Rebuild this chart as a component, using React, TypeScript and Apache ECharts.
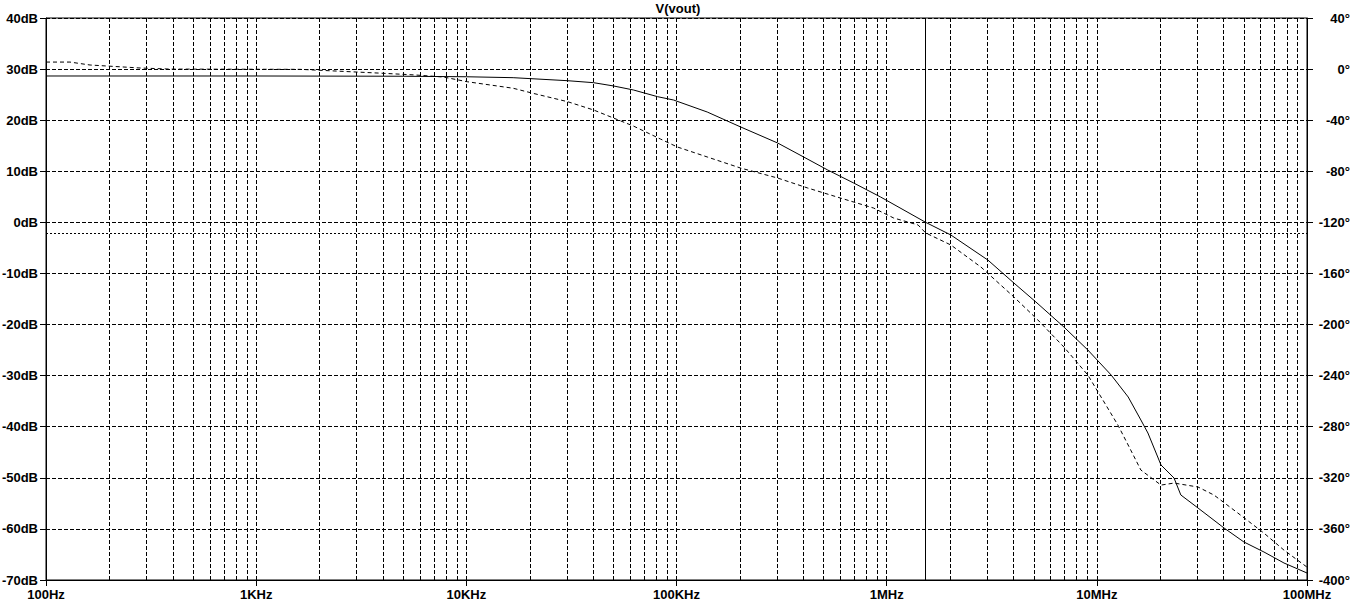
import React, { useEffect, useRef } from "react";
import * as echarts from "echarts";

// ---- data ----
const freqTickLabels = ["100Hz", "1KHz", "10KHz", "100KHz", "1MHz", "10MHz", "100MHz"];
const decades = [100, 1000, 10000, 100000, 1000000, 10000000];
const minorMultipliers = [2, 3, 4, 5, 6, 7, 8, 9];

const magFreq = [
  100, 1000, 5000, 10000, 16700, 30300, 40300, 50100, 62400, 81300, 96800, 140000,
  202000, 303000, 403000, 524000, 697000, 936000, 1534000, 2020000, 3030000, 4030000,
  5130000, 6970000, 9060000, 11700000, 14100000, 16200000, 17500000, 20200000, 23300000,
  25100000, 30300000, 40300000, 50100000, 62400000, 77700000, 100000000,
];
const magDb = [
  28.65, 28.65, 28.6, 28.5, 28.32, 27.73, 27.34, 26.7, 25.91, 24.6, 23.95, 21.6,
  18.67, 15.53, 12.79, 10.25, 7.7, 4.96, 0.0, -2.47, -7.37, -11.87,
  -15.59, -20.48, -24.98, -29.88, -34.18, -38.68, -41.23, -47.49, -50.04,
  -53.36, -55.91, -59.82, -62.56, -64.52, -66.67, -68.63,
];

const phaseFreq = [
  100, 130, 162, 281, 390, 1620, 4030, 5710, 7770, 10100, 16700, 20800, 30300, 40300,
  50100, 62400, 84000, 101000, 140000, 202000, 303000, 421000, 604000, 867000, 1080000,
  1410000, 1534000, 2020000, 2810000, 4030000, 5240000, 6970000, 9060000, 12600000,
  14500000, 16200000, 20200000, 23300000, 30300000, 36100000, 46900000, 62400000,
  77700000, 100000000,
];
const phaseDeg = [
  5.5, 5.5, 3.2, 0.85, 0, -0.2, -3.3, -4.6, -6.2, -9.9, -15.0, -19.0, -25.5, -32.0,
  -38.3, -44.6, -54.8, -61, -68.8, -77.5, -85.3, -93.1, -101, -108.8, -116.6,
  -122, -128.3, -137.7, -155, -178.4, -196.4, -217.6, -239.5, -278.7,
  -298.3, -313.9, -325.7, -324.1, -327.2, -333.5, -347.6, -363.3,
  -376.6, -389.9,
];

const cursorFreq = 1530000;
const cursorPhase = -128.3;

const FONT = "Liberation Sans";

export default function App() {
  const ref = useRef<HTMLDivElement>(null);

  useEffect(() => {
    if (!ref.current) return;
    const chart = echarts.init(ref.current, null, { renderer: "svg" });

    const minorFreqs: number[][] = [];
    decades.forEach((d) => minorMultipliers.forEach((m) => minorFreqs.push([d * m, 0])));

    const labelStyle = {
      color: "#000",
      fontFamily: FONT,
      fontWeight: "bold" as const,
      fontSize: 13,
    };

    chart.setOption({
      animation: false,
      backgroundColor: "#fff",
      title: {
        text: "V(vout)",
        left: "center",
        top: 2,
        padding: 0,
        textStyle: { ...labelStyle },
      },
      grid: {
        left: 46,
        top: 18,
        width: 1261,
        height: 562,
        show: true,
        borderColor: "#000",
        borderWidth: 1,
        backgroundColor: "transparent",
        containLabel: false,
        outerBoundsMode: "none",
      },
      xAxis: {
        type: "log",
        logBase: 10,
        min: 100,
        max: 100000000,
        splitNumber: 6,
        axisLine: { show: true, onZero: false, lineStyle: { color: "#000", width: 1 } },
        axisTick: { show: true, length: 6, inside: false, lineStyle: { color: "#000" } },
        axisLabel: {
          ...labelStyle,
          margin: 8,
          interval: 0,
          showMinLabel: true,
          showMaxLabel: true,
          formatter: (v: number) => {
            const i = Math.round(Math.log10(v)) - 2;
            return freqTickLabels[i] ?? "";
          },
        },
        splitLine: { show: true, lineStyle: { color: "#000", type: [4, 2], width: 1 } },
      },
      yAxis: [
        {
          type: "value",
          min: -70,
          max: 40,
          interval: 10,
          position: "left",
          axisLine: { show: true, onZero: false, lineStyle: { color: "#000", width: 1 } },
          axisTick: { show: true, length: 6, inside: false, lineStyle: { color: "#000" } },
          axisLabel: { ...labelStyle, margin: 8, formatter: (v: number) => `${v}dB` },
          splitLine: { show: true, lineStyle: { color: "#000", type: [4, 2], width: 1 } },
        },
        {
          type: "value",
          min: -400,
          max: 40,
          interval: 40,
          position: "right",
          axisLine: { show: true, onZero: false, lineStyle: { color: "#000", width: 1 } },
          axisTick: { show: true, length: 6, inside: false, lineStyle: { color: "#000" } },
          axisLabel: { ...labelStyle, margin: 43, align: "right", formatter: (v: number) => `${v}°` },
          splitLine: { show: false },
        },
      ],
      series: [
        {
          type: "custom",
          name: "minorGrid",
          xAxisIndex: 0,
          yAxisIndex: 0,
          silent: true,
          z: 1,
          data: minorFreqs,
          encode: { x: 0, y: 1 },
          renderItem: (params: any, api: any) => {
            const cs = params.coordSys;
            const pt = api.coord([api.value(0), api.value(1)]);
            const x = Math.round(pt[0]) + 0.5;
            return {
              type: "line",
              silent: true,
              shape: { x1: x, y1: cs.y, x2: x, y2: cs.y + cs.height },
              style: { stroke: "#000", lineWidth: 1, lineDash: [4, 2] },
            };
          },
        },
        {
          type: "line",
          name: "magnitude",
          yAxisIndex: 0,
          showSymbol: false,
          symbol: "none",
          z: 5,
          lineStyle: { color: "#000", width: 1, type: "solid" },
          data: magFreq.map((f, i) => [f, magDb[i]]),
          markLine: {
            silent: true,
            symbol: "none",
            label: { show: false },
            lineStyle: { color: "#000", width: 1, type: "solid" },
            data: [{ xAxis: cursorFreq }],
          },
        },
        {
          type: "line",
          name: "phase",
          yAxisIndex: 1,
          showSymbol: false,
          symbol: "none",
          z: 5,
          lineStyle: { color: "#000", width: 1, type: [4, 3] },
          data: phaseFreq.map((f, i) => [f, phaseDeg[i]]),
          markLine: {
            silent: true,
            symbol: "none",
            label: { show: false },
            lineStyle: { color: "#000", width: 1, type: [2, 2] },
            data: [{ yAxis: cursorPhase }],
          },
        },
      ],
    });

    return () => chart.dispose();
  }, []);

  return (
    <div
      ref={ref}
      style={{ position: "absolute", left: 0, top: 0, width: 1356, height: 606, background: "#fff" }}
    />
  );
}
